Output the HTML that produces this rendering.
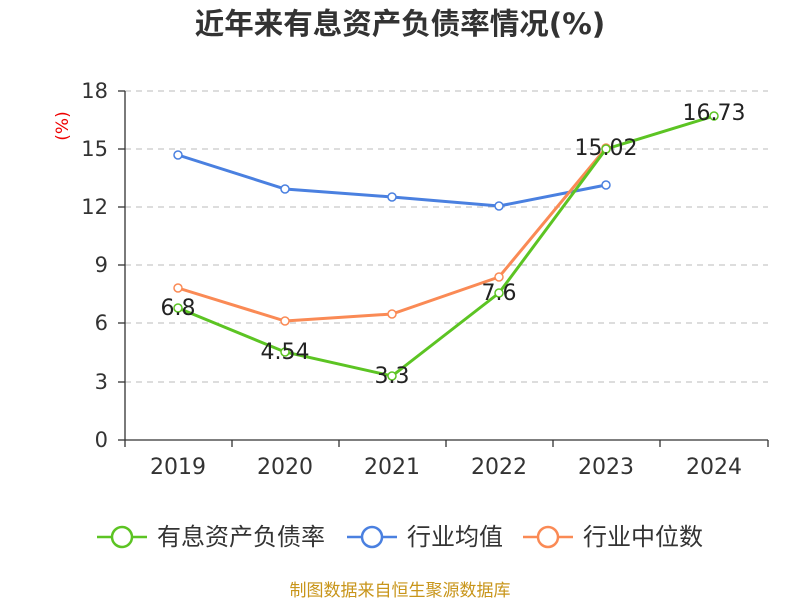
<!DOCTYPE html>
<html><head><meta charset="utf-8"><style>
body{margin:0;background:#fff;}
svg text{font-family:"DejaVu Sans","Noto Sans CJK SC",sans-serif;}
</style></head><body>
<svg width="800" height="600" viewBox="0 0 800 600" xmlns="http://www.w3.org/2000/svg">
<rect width="800" height="600" fill="#fff"/>
<text x="400" y="34" text-anchor="middle" font-size="29.5" font-weight="bold" fill="#333" font-family="Liberation Sans,Noto Sans CJK SC,sans-serif">近年来有息资产负债率情况(%)</text>
<text x="68" y="126" font-size="17" fill="#e00" transform="rotate(-90 68 126)" text-anchor="middle">(%)</text>
<g stroke="#bbb" stroke-dasharray="6,5" stroke-width="1">
<line x1="125" x2="768" y1="91" y2="91"/><line x1="125" x2="768" y1="149" y2="149"/>
<line x1="125" x2="768" y1="207" y2="207"/><line x1="125" x2="768" y1="265" y2="265"/>
<line x1="125" x2="768" y1="323" y2="323"/><line x1="125" x2="768" y1="382" y2="382"/>
</g>
<g stroke="#333" stroke-width="1.3">
<line x1="125" x2="125" y1="91" y2="440"/><line x1="125" x2="768" y1="440" y2="440"/>
<line x1="118" x2="125" y1="91" y2="91"/><line x1="118" x2="125" y1="149" y2="149"/>
<line x1="118" x2="125" y1="207" y2="207"/><line x1="118" x2="125" y1="265" y2="265"/>
<line x1="118" x2="125" y1="323" y2="323"/><line x1="118" x2="125" y1="382" y2="382"/>
<line x1="118" x2="125" y1="440" y2="440"/>
<line x1="125" x2="125" y1="440" y2="447"/><line x1="232" x2="232" y1="440" y2="447"/>
<line x1="339" x2="339" y1="440" y2="447"/><line x1="446" x2="446" y1="440" y2="447"/>
<line x1="553" x2="553" y1="440" y2="447"/><line x1="660" x2="660" y1="440" y2="447"/>
<line x1="768" x2="768" y1="440" y2="447"/>
</g>
<g font-size="21" fill="#333" text-anchor="end">
<text x="108" y="98">18</text><text x="108" y="156">15</text><text x="108" y="214">12</text>
<text x="108" y="272">9</text><text x="108" y="330">6</text><text x="108" y="389">3</text><text x="108" y="447">0</text>
</g>
<g font-size="22" fill="#333" text-anchor="middle">
<text x="178" y="474">2019</text><text x="285" y="474">2020</text><text x="392" y="474">2021</text>
<text x="499" y="474">2022</text><text x="606" y="474">2023</text><text x="714" y="474">2024</text>
</g>
<polyline fill="none" stroke="#4a80e0" stroke-width="3" points="178,155 285,189 392,197 499,206 606,185"/>
<polyline fill="none" stroke="#fa8a55" stroke-width="3" points="178,288 285,321 392,314 499,277 606,148"/>
<polyline fill="none" stroke="#5cc423" stroke-width="3" points="178,308 285,352 392,376 499,293 606,149 714,116"/>
<g fill="#fff" stroke-width="1.5">
<g stroke="#4a80e0"><circle cx="178" cy="155" r="4"/><circle cx="285" cy="189" r="4"/><circle cx="392" cy="197" r="4"/><circle cx="499" cy="206" r="4"/><circle cx="606" cy="185" r="4"/></g>
<g stroke="#fa8a55"><circle cx="178" cy="288" r="4"/><circle cx="285" cy="321" r="4"/><circle cx="392" cy="314" r="4"/><circle cx="499" cy="277" r="4"/><circle cx="606" cy="148" r="4"/></g>
<g stroke="#5cc423"><circle cx="178" cy="308" r="4"/><circle cx="285" cy="352" r="4"/><circle cx="392" cy="376" r="4"/><circle cx="499" cy="293" r="4"/><circle cx="606" cy="149" r="4"/><circle cx="714" cy="116" r="4"/></g>
</g>
<g font-size="22" fill="#222" text-anchor="middle">
<text x="178" y="315">6.8</text><text x="285" y="359">4.54</text><text x="392" y="383">3.3</text>
<text x="499" y="300">7.6</text><text x="606" y="155">15.02</text><text x="714" y="120">16.73</text>
</g>
<g stroke-width="2.5" fill="#fff">
<line x1="97" x2="147" y1="537" y2="537" stroke="#5cc423"/><circle cx="122" cy="537" r="10" stroke="#5cc423"/>
<line x1="347" x2="397" y1="537" y2="537" stroke="#4a80e0"/><circle cx="372" cy="537" r="10" stroke="#4a80e0"/>
<line x1="523" x2="573" y1="537" y2="537" stroke="#fa8a55"/><circle cx="548" cy="537" r="10" stroke="#fa8a55"/>
</g>
<g font-size="24" fill="#333">
<text x="157" y="545">有息资产负债率</text><text x="407" y="545">行业均值</text><text x="583" y="545">行业中位数</text>
</g>
<text x="400" y="596" text-anchor="middle" font-size="17" fill="#c8951a">制图数据来自恒生聚源数据库</text>
</svg>
</body></html>
